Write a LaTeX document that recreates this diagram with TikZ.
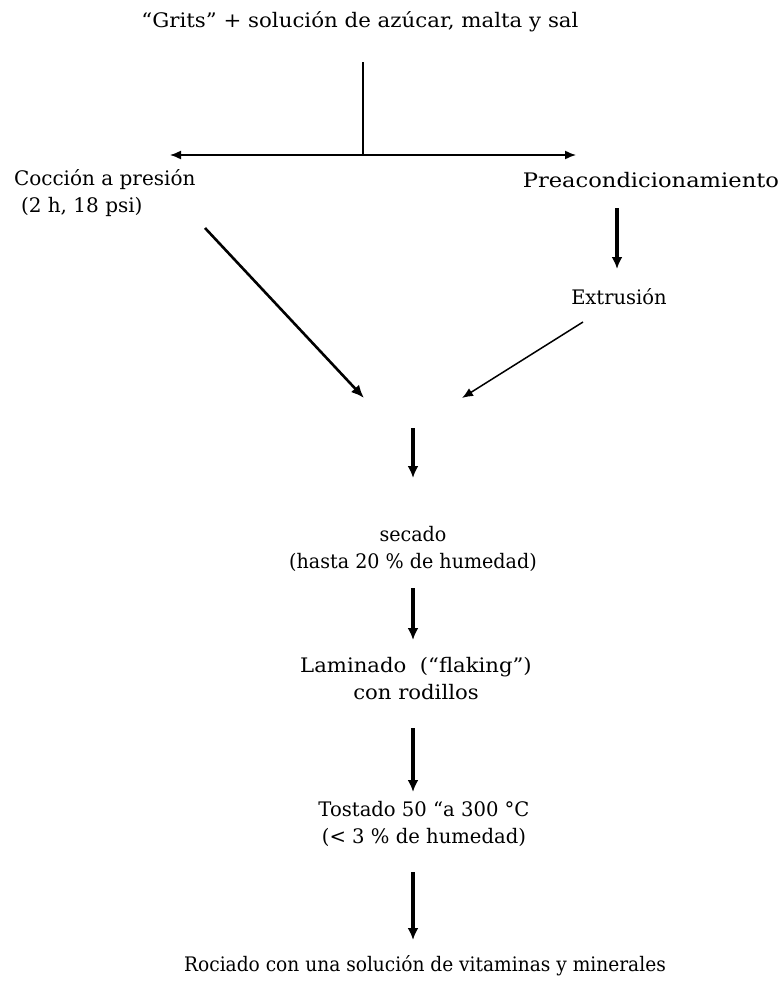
\documentclass[tikz,border=0pt]{standalone}
\usepackage{fontspec}
\setmainfont{DejaVu Serif}
\usetikzlibrary{arrows.meta}
% uniform size, per-label horizontal stretch
\newcommand{\lblfont}[1]{\fontsize{20}{27}\selectfont\addfontfeature{FakeStretch=#1}}
\begin{document}
\begin{tikzpicture}[x=1pt,y=-1pt,
  lbl/.style={inner sep=0pt,outer sep=0pt,font=\lblfont{1.0},align=center},
  thin line/.style={line width=1.5pt,draw=black},
  thin arrow/.style={line width=1.5pt,-{Latex[length=11pt,width=9pt]}},
  bold arrow/.style={line width=3.2pt,-{Latex[length=12pt,width=11pt]}},
  diag arrow/.style={line width=2.6pt,-{Latex[length=13pt,width=11pt]}},
  ]
  \useasboundingbox (0,0) rectangle (784,985);
  \fill[white] (0,0) rectangle (784,985);

  % text of the flow
  \node[lbl,font=\lblfont{1.066}] (grits) at (360,22) {“Grits” + solución de azúcar, malta y sal};
  \node[lbl,font=\lblfont{1.0},align=left,anchor=west] (coc) at (14,193) {Cocción a presión\\\hspace*{7pt}(2 h, 18 psi)};
  \node[lbl,font=\lblfont{1.13},anchor=east] (pre) at (779,180) {Preacondicionamiento};
  \node[lbl,font=\lblfont{0.975}] (ext) at (619,297) {Extrusión};
  \node[lbl,font=\lblfont{0.955}] (sec) at (413,549) {secado\\(hasta 20 \% de humedad)};
  \node[lbl,font=\lblfont{1.06}] (lam) at (416,679) {Laminado \ (“flaking”)\\con rodillos};
  \node[lbl,font=\lblfont{0.98}] (tos) at (424,824) {Tostado 50 “a 300 °C\\(< 3 \% de humedad)};
  \node[lbl,font=\lblfont{0.93}] (roc) at (425,966) {Rociado con una solución de vitaminas y minerales};

  % split of the raw material into two lines
  \coordinate (split) at (363,155);
  \coordinate (top) at (363,62);
  \coordinate (cocin) at (170,155);
  \coordinate (prein) at (576,155);
  \coordinate (mergeL) at (364,398);
  \coordinate (mergeR) at (462,398);
  \coordinate (merge) at (413,428);
  \coordinate (cocout) at (205,228);
  \coordinate (extout) at (583,322);

  % arrow ends along the main column
  \coordinate (preout) at (617,208);
  \coordinate (extin) at (617,269);
  \coordinate (secin) at (413,478);
  \coordinate (secout) at (413,588);
  \coordinate (lamin) at (413,640);
  \coordinate (lamout) at (413,728);
  \coordinate (tosin) at (413,792);
  \coordinate (tosout) at (413,872);
  \coordinate (rocin) at (413,940);

  \draw[thin line] (top) -- (split);
  \draw[thin arrow] (split) -- (cocin);
  \draw[thin arrow] (split) -- (prein);

  \draw[bold arrow] (preout) -- (extin);
  \draw[diag arrow] (cocout) -- (mergeL);
  \draw[thin arrow] (extout) -- (mergeR);

  \draw[bold arrow] (merge) -- (secin);
  \draw[bold arrow] (secout) -- (lamin);
  \draw[bold arrow] (lamout) -- (tosin);
  \draw[bold arrow] (tosout) -- (rocin);
\end{tikzpicture}
\end{document}
